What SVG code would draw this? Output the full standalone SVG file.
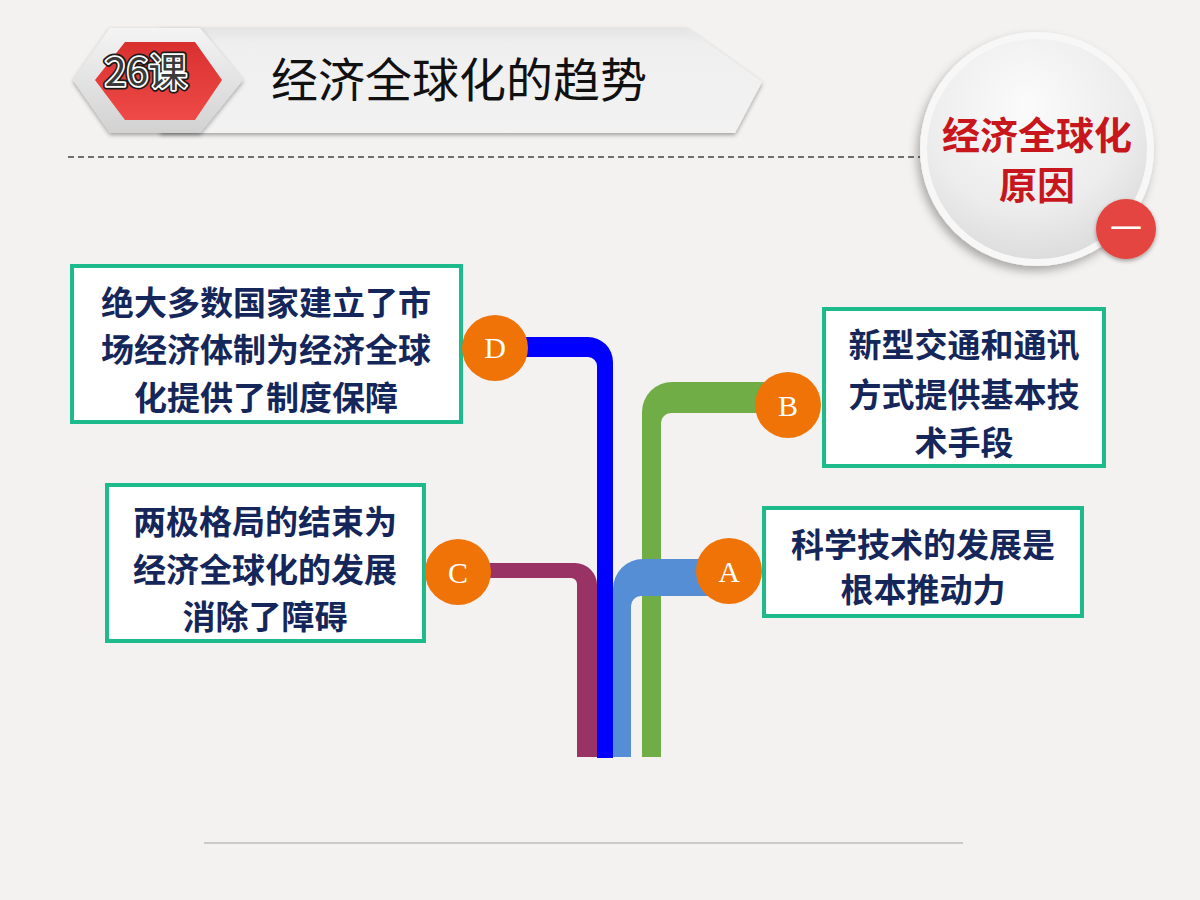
<svg xmlns="http://www.w3.org/2000/svg" width="1200" height="900" viewBox="0 0 1200 900">
<defs>
<style>
.box{fill:#ffffff;stroke:#1dbb8c;stroke-width:4}
.bt{font-family:"Noto Sans CJK SC","Noto Sans",sans-serif;font-weight:bold;font-size:33px;fill:#15275a;text-anchor:middle}
.dot{fill:#ef7306}
.lt{font-family:"Liberation Serif",serif;font-size:30px;fill:#ffffff;text-anchor:middle}
</style>
<linearGradient id="ban" x1="0" y1="0" x2="0" y2="1">
<stop offset="0" stop-color="#e4e4e4"/><stop offset="0.15" stop-color="#efefef"/><stop offset="1" stop-color="#f2f2f2"/>
</linearGradient>
<linearGradient id="hexo" x1="0" y1="0" x2="0" y2="1">
<stop offset="0" stop-color="#f4f4f4"/><stop offset="1" stop-color="#d2d2d2"/>
</linearGradient>
<linearGradient id="hexr" x1="0" y1="0" x2="0" y2="1">
<stop offset="0" stop-color="#d9302f"/><stop offset="1" stop-color="#ee4a47"/>
</linearGradient>
<radialGradient id="disc" cx="0.45" cy="0.3" r="0.8">
<stop offset="0" stop-color="#fbfbfb"/><stop offset="0.6" stop-color="#ececec"/><stop offset="1" stop-color="#d6d6d6"/>
</radialGradient>
<filter id="sh" x="-20%" y="-20%" width="140%" height="140%">
<feDropShadow dx="-3" dy="5" stdDeviation="5" flood-color="#000" flood-opacity="0.3"/>
</filter>
<filter id="sh2" x="-20%" y="-20%" width="140%" height="140%">
<feDropShadow dx="0" dy="2" stdDeviation="2" flood-color="#000" flood-opacity="0.35"/>
</filter>
</defs>
<rect width="1200" height="900" fill="#f4f2f0"/>

<g id="header">
<polygon points="160,28 687,28 762,82 735,133 160,133" fill="url(#ban)" filter="url(#sh2)"/>
<polygon points="73,80 110,28 200,28 243,80 200,133 110,133" fill="url(#hexo)" filter="url(#sh2)"/>
<polygon points="95,80 125,42 195,42 222,80 195,120 125,120" fill="url(#hexr)"/>
<g font-family="'Noto Sans CJK SC','Noto Sans',sans-serif" font-size="39" text-anchor="middle">
<text x="146" y="86" fill="none" stroke="#1a1a1a" stroke-width="7" stroke-linejoin="round">26课</text>
<text x="146" y="86" fill="none" stroke="#ffffff" stroke-width="3.5" stroke-linejoin="round">26课</text>
<text x="146" y="86" fill="#3a3a3a">26课</text>
</g>
<text x="459" y="97" font-family="'Noto Sans CJK SC','Noto Sans',sans-serif" font-size="47" fill="#111" text-anchor="middle">经济全球化的趋势</text>
<line x1="68" y1="157" x2="920" y2="157" stroke="#444" stroke-width="1.5" stroke-dasharray="6,4"/>
</g>

<g id="topic">
<circle cx="1037" cy="149" r="117" fill="#f7f7f7" filter="url(#sh)"/>
<circle cx="1037" cy="149" r="110" fill="url(#disc)"/>
<text x="1037" y="149" font-family="'Noto Sans CJK SC','Noto Sans',sans-serif" font-weight="bold" font-size="38" fill="#c8161d" text-anchor="middle">经济全球化</text>
<text x="1037" y="199" font-family="'Noto Sans CJK SC','Noto Sans',sans-serif" font-weight="bold" font-size="38" fill="#c8161d" text-anchor="middle">原因</text>
<circle cx="1126" cy="229" r="30" fill="#e5443f" filter="url(#sh2)"/>
<text x="1126" y="240" font-family="'Noto Sans CJK SC','Noto Sans',sans-serif" font-size="32" fill="#ffffff" text-anchor="middle">一</text>
</g>

<g id="connectors">
<path d="M458,563 H575 A22,22 0 0 1 597,585 V757 H577 V584 A6,6 0 0 0 571,578 H458 Z" fill="#993366"/>
<path d="M495,337 H588 A25,25 0 0 1 613,362 V758 H597 V366 A9,9 0 0 0 588,357 H495 Z" fill="#0000ff"/>
<path d="M790,382 H672 A30,30 0 0 0 642,412 V757 H661 V423 A10,10 0 0 1 671,413 H790 Z" fill="#70ad47"/>
<path d="M730,559 H643 A30,30 0 0 0 613,589 V757 H631 V606 A10,10 0 0 1 641,596 H730 Z" fill="#558ed5"/>
</g>

<g id="nodeD">
<rect class="box" x="72" y="266" width="389" height="156"/>
<text class="bt" x="266" y="315">绝大多数国家建立了市</text>
<text class="bt" x="266" y="362">场经济体制为经济全球</text>
<text class="bt" x="266" y="410">化提供了制度保障</text>
<circle class="dot" cx="495" cy="348" r="33"/>
<text class="lt" x="495" y="358">D</text>
</g>

<g id="nodeC">
<rect class="box" x="107" y="485" width="317" height="156"/>
<text class="bt" x="265" y="534">两极格局的结束为</text>
<text class="bt" x="265" y="582">经济全球化的发展</text>
<text class="bt" x="265" y="629">消除了障碍</text>
<circle class="dot" cx="458" cy="572" r="33"/>
<text class="lt" x="458" y="583">C</text>
</g>

<g id="nodeB">
<rect class="box" x="824" y="309" width="280" height="157"/>
<text class="bt" x="964" y="357">新型交通和通讯</text>
<text class="bt" x="964" y="407">方式提供基本技</text>
<text class="bt" x="964" y="455">术手段</text>
<circle class="dot" cx="788" cy="405" r="33"/>
<text class="lt" x="788" y="416">B</text>
</g>

<g id="nodeA">
<rect class="box" x="764" y="508" width="318" height="108"/>
<text class="bt" x="923" y="557">科学技术的发展是</text>
<text class="bt" x="923" y="602">根本推动力</text>
<circle class="dot" cx="729" cy="571" r="33"/>
<text class="lt" x="729" y="582">A</text>
</g>

<line x1="204" y1="843" x2="963" y2="843" stroke="#bdbdbd" stroke-width="1.5"/>
</svg>
